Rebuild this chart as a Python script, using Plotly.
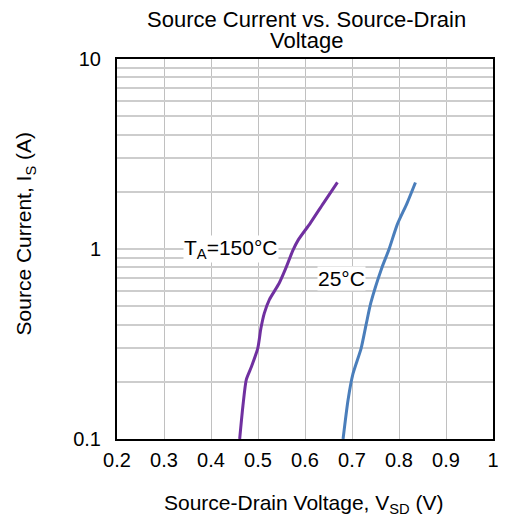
import plotly.graph_objects as go

# 150°C curve (V_SD in V, I_S in A)
v_150 = [0.461, 0.468, 0.475, 0.486, 0.4995, 0.506, 0.5135, 0.524, 0.545, 0.559, 0.574, 0.586, 0.611, 0.639, 0.669]
i_150 = [0.10, 0.15, 0.205, 0.24, 0.30, 0.38, 0.46, 0.54, 0.66, 0.79, 0.98, 1.12, 1.365, 1.74, 2.24]

# 25°C curve
v_25 = [0.681, 0.6915, 0.702, 0.7194, 0.730, 0.740, 0.763, 0.779, 0.796, 0.817, 0.835]
i_25 = [0.10, 0.16, 0.22, 0.30, 0.40, 0.52, 0.79, 1.00, 1.34, 1.74, 2.24]

x_ticks = [0.2, 0.3, 0.4, 0.5, 0.6, 0.7, 0.8, 0.9, 1.0]
x_ticklabels = ["0.2", "0.3", "0.4", "0.5", "0.6", "0.7", "0.8", "0.9", "1"]
y_grid = [0.1, 0.2, 0.3, 0.4, 0.5, 0.6, 0.7, 0.8, 0.9,
          1, 2, 3, 4, 5, 6, 7, 8, 9, 10]
y_labels = {0.1: "0.1", 1: "1", 10: "10"}

title_lines = ["Source Current vs. Source-Drain", "Voltage"]
x_title = "Source-Drain Voltage, V<sub>SD</sub> (V)"
y_title = "Source Current, I<sub>S</sub> (A)"
label_150 = "T<sub>A</sub>=150°C"
label_25 = "25°C"

FONT = "Liberation Sans, Arial, sans-serif"
BLACK = "black"

fig = go.Figure()
fig.add_trace(go.Scatter(x=v_150, y=i_150, mode="lines",
                         line=dict(color="#7030a0", width=3, shape="spline", smoothing=0.6),
                         showlegend=False, hoverinfo="skip"))
fig.add_trace(go.Scatter(x=v_25, y=i_25, mode="lines",
                         line=dict(color="#4a7ebb", width=3, shape="spline", smoothing=0.6),
                         showlegend=False, hoverinfo="skip"))

# in-plot labels
fig.add_annotation(x=0.443, y=0.0, xref="x", yref="y", text=label_150,
                   showarrow=False, bgcolor="white", borderpad=0,
                   font=dict(size=21, color=BLACK, family=FONT))
fig.add_annotation(x=0.678, y=-0.153, xref="x", yref="y", text=label_25,
                   showarrow=False, bgcolor="white", borderpad=0,
                   font=dict(size=21, color=BLACK, family=FONT))

# plot area in page pixels: x 117..499, y 59..439 (page has an 8px body margin)
OFF = 8
L, R, T, B = 117, 499, 59, 439
PW, PH = R - L, B - T
W, H = 511 - 2 * OFF, 525 - 2 * OFF

def px(xp):
    return (xp - L) / PW

def py(yp):
    return (B - yp) / PH

# title (two lines)
fig.add_annotation(x=px(310), y=py(19.5), xref="paper", yref="paper", text=title_lines[0],
                   showarrow=False, xanchor="center", yanchor="middle", borderpad=0,
                   font=dict(size=22, color=BLACK, family=FONT))
fig.add_annotation(x=px(310), y=py(40.5), xref="paper", yref="paper", text=title_lines[1],
                   showarrow=False, xanchor="center", yanchor="middle", borderpad=0,
                   font=dict(size=22, color=BLACK, family=FONT))

# axis titles
fig.add_annotation(x=px(306.5), y=py(503.5), xref="paper", yref="paper", text=x_title,
                   showarrow=False, xanchor="center", yanchor="middle",
                   font=dict(size=21, color=BLACK, family=FONT))
fig.add_annotation(x=px(24), y=py(233), xref="paper", yref="paper", text=y_title,
                   showarrow=False, xanchor="center", yanchor="middle", textangle=-90,
                   font=dict(size=21, color=BLACK, family=FONT))

fig.update_layout(
    width=W, height=H,
    margin=dict(l=L - OFF, r=W + OFF - R, t=T - OFF, b=H + OFF - B),
    paper_bgcolor="white", plot_bgcolor="white",
    font=dict(family=FONT, color=BLACK),
)
fig.update_xaxes(range=[0.2, 1.0], tickvals=x_ticks, ticktext=x_ticklabels,
                 showgrid=True, gridcolor="#c0c0c0", gridwidth=1,
                 showline=True, linecolor=BLACK, linewidth=2, mirror=True,
                 ticks="", ticklabelstandoff=2,
                 tickfont=dict(size=20, family=FONT, color=BLACK),
                 zeroline=False)
fig.update_yaxes(type="log", range=[-1, 1], tickvals=y_grid,
                 ticktext=[y_labels.get(v, "") for v in y_grid],
                 showgrid=True, gridcolor="#cdcdcd", gridwidth=2,
                 showline=True, linecolor=BLACK, linewidth=2, mirror=True,
                 ticks="", ticklabelstandoff=10,
                 tickfont=dict(size=20, family=FONT, color=BLACK),
                 zeroline=False)

fig.write_html("out.html", config={"displayModeBar": False})
